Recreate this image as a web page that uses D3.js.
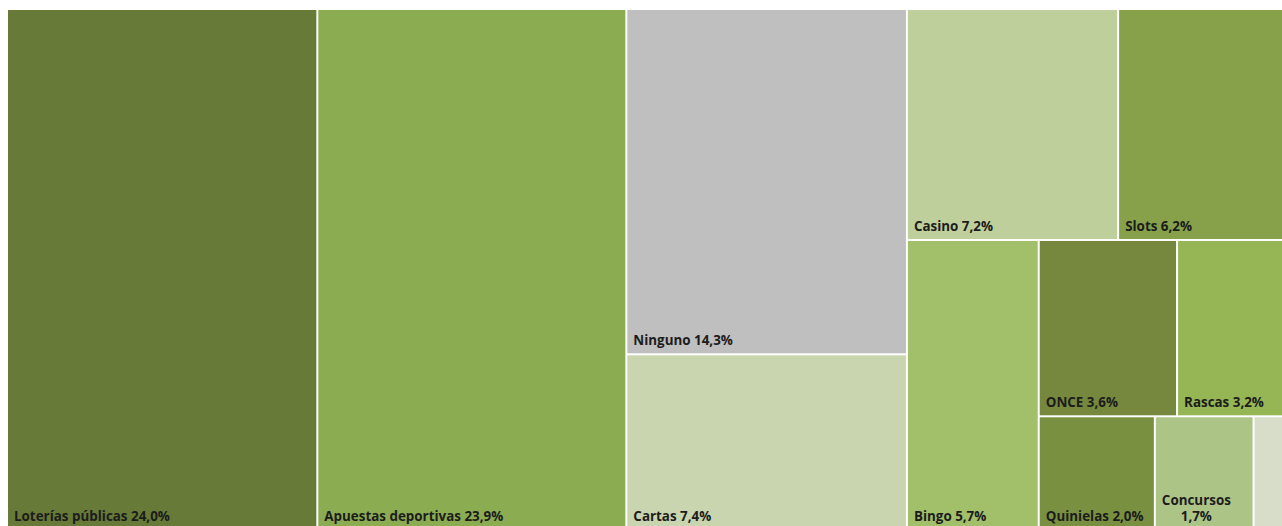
<!DOCTYPE html>
<html lang="es">
<head>
<meta charset="utf-8">
<script src="https://cdn.jsdelivr.net/npm/d3@7"></script>
<style>
  html, body { margin: 0; padding: 0; background: #ffffff; overflow: hidden; }
  svg { display: block; }
  text { font-family: "Open Sans", "Noto Sans", sans-serif; font-weight: 700; font-size: 13.4px; fill: #1c1c1c; }
</style>
</head>
<body>
<svg id="chart" width="1282" height="526"></svg>
<script>
// Share of respondents by preferred type of game (%)
const categories = ["Loterías públicas", "Apuestas deportivas", "Ninguno", "Cartas", "Casino", "Slots",
                    "Bingo", "ONCE", "Rascas", "Quinielas", "Concursos", "Otros"];
const shares = [24.0, 23.9, 14.3, 7.4, 7.2, 6.2, 5.7, 3.6, 3.2, 2.0, 1.7, 0.8];
const colors = ["#677a37", "#8cac51", "#bfbfbf", "#c9d5ae", "#bfcf9b", "#86a14a",
                "#a2c06a", "#75883e", "#96b555", "#7a9041", "#adc487", "#d7ddc9"];
const showLabel = [true, true, true, true, true, true, true, true, true, true, true, false];

// Tiling groups: "h" splits its children left-to-right, "v" top-to-bottom.
const groups = ["h", 0, 1,
  ["v", 2, 3],
  ["v", ["h", 4, 5],
        ["h", 6, ["v", ["h", 7, 8], ["h", 9, 10, 11]]]]];

function build(g) {
  if (typeof g === "number") {
    return { name: categories[g], value: shares[g], color: colors[g], label: showLabel[g] };
  }
  return { dir: g[0], children: g.slice(1).map(build) };
}

const viewH = 526;
const margin = { left: 8, top: 10 };
const W = 1291, H = 522;

const root = d3.hierarchy(build(groups))
  .sum(d => d.value || 0);

d3.treemap()
  .size([W, H])
  .paddingInner(2)
  .round(false)
  .tile((node, x0, y0, x1, y1) => {
    if (node.data.dir === "v") d3.treemapSlice(node, x0, y0, x1, y1);
    else d3.treemapDice(node, x0, y0, x1, y1);
  })(root);

const fmt = v => d3.format(".1f")(v).replace(".", ",") + "%";

const svg = d3.select("#chart");
const g = svg.append("g").attr("transform", `translate(${margin.left},${margin.top})`);

const leaves = g.selectAll("g.cell")
  .data(root.leaves())
  .join("g")
  .attr("class", "cell")
  .attr("transform", d => `translate(${d.x0},${d.y0})`);

leaves.append("rect")
  .attr("width", d => d.x1 - d.x0)
  .attr("height", d => d.y1 - d.y0)
  .attr("fill", d => d.data.color);

leaves.filter(d => d.data.label).each(function (d) {
  const cell = d3.select(this);
  const w = d.x1 - d.x0, h = d.y1 - d.y0;
  // Baseline near the cell's bottom edge, kept inside the visible area
  const base = Math.min(h - 8, viewH - margin.top - d.y0 - 5);
  const full = `${d.data.name} ${fmt(d.data.value)}`;
  const t = cell.append("text")
    .attr("x", 6)
    .attr("y", base)
    .text(full);
  if (t.node().getComputedTextLength() > w - 10) {
    // Too wide for one line: name above, value below, centred on the name
    t.remove();
    const first = cell.append("text")
      .attr("x", 6)
      .attr("y", base - 16)
      .attr("font-size", "11.6px")
      .text(d.data.name);
    const cx = 6 + first.node().getComputedTextLength() / 2;
    first.attr("x", cx).attr("text-anchor", "middle");
    cell.append("text")
      .attr("x", cx)
      .attr("y", base)
      .attr("text-anchor", "middle")
      .attr("font-size", "11.6px")
      .text(fmt(d.data.value));
  }
});
</script>
</body>
</html>
